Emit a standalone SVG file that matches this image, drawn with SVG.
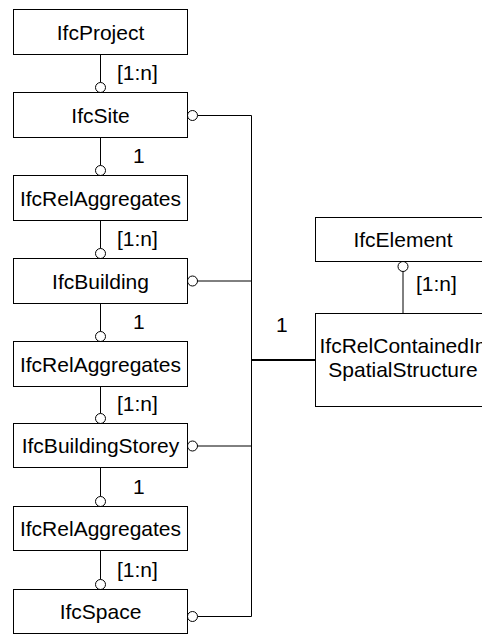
<svg xmlns="http://www.w3.org/2000/svg" width="482" height="635" viewBox="0 0 482 635">
<style>
.box{fill:#fff;stroke:#000;stroke-width:1}
.t{font-family:"Liberation Sans",Arial,sans-serif;font-size:21px;fill:#000;text-anchor:middle}
.l{font-family:"Liberation Sans",Arial,sans-serif;font-size:21px;fill:#000}
.c{fill:#fff;stroke:#000;stroke-width:1}
.ln{stroke:#000;stroke-width:1;fill:none}
</style>
<rect width="482" height="635" fill="#fff"/>
<g id="connectors">
  <path class="ln" d="M100.5 54.5V82.5 M100.5 137.5V165.5 M100.5 220.5V248.5 M100.5 303.5V331.5 M100.5 386.5V413.5 M100.5 467.5V496.5 M100.5 550.5V579.5"/>
  <circle class="c" cx="100.5" cy="87.5" r="5"/>
  <circle class="c" cx="100.5" cy="170.5" r="5"/>
  <circle class="c" cx="100.5" cy="253.5" r="5"/>
  <circle class="c" cx="100.5" cy="336.5" r="5"/>
  <circle class="c" cx="100.5" cy="418.5" r="5"/>
  <circle class="c" cx="100.5" cy="501.5" r="5"/>
  <circle class="c" cx="100.5" cy="584.5" r="5"/>
  <text class="l" x="117" y="80">[1:n]</text>
  <text class="l" x="133" y="163">1</text>
  <text class="l" x="117" y="246">[1:n]</text>
  <text class="l" x="133" y="329">1</text>
  <text class="l" x="117" y="411">[1:n]</text>
  <text class="l" x="133" y="494">1</text>
  <text class="l" x="117" y="577">[1:n]</text>
  <path class="ln" d="M197.5 115.5H251.5V616.5H197.5 M197.5 281H251.5 M197.5 446H251.5"/>
  <circle class="c" cx="192.5" cy="115.5" r="5"/>
  <circle class="c" cx="192.5" cy="281" r="5"/>
  <circle class="c" cx="192.5" cy="446" r="5"/>
  <circle class="c" cx="192.5" cy="616.5" r="5"/>
  <path d="M251.5 360H315.5" stroke="#000" stroke-width="2"/>
  <text class="l" x="276" y="332">1</text>
  <path class="ln" d="M403 271.5V313.5"/>
  <circle class="c" cx="403" cy="266.5" r="5"/>
  <text class="l" x="416" y="291">[1:n]</text>
</g>
<g id="IfcProject"><rect class="box" x="13.5" y="9.5" width="174" height="45"/><text class="t" x="100.5" y="39.5">IfcProject</text></g>
<g id="IfcSite"><rect class="box" x="13.5" y="92.5" width="174" height="45"/><text class="t" x="100.5" y="122.5">IfcSite</text></g>
<g id="IfcRelAggregates1"><rect class="box" x="13.5" y="175.5" width="174" height="45"/><text class="t" x="100.5" y="205.5">IfcRelAggregates</text></g>
<g id="IfcBuilding"><rect class="box" x="13.5" y="258.5" width="174" height="45"/><text class="t" x="100.5" y="288.5">IfcBuilding</text></g>
<g id="IfcRelAggregates2"><rect class="box" x="13.5" y="341.5" width="174" height="45"/><text class="t" x="100.5" y="371.5">IfcRelAggregates</text></g>
<g id="IfcBuildingStorey"><rect class="box" x="13.5" y="423.5" width="174" height="44"/><text class="t" x="100.5" y="453">IfcBuildingStorey</text></g>
<g id="IfcRelAggregates3"><rect class="box" x="13.5" y="506.5" width="174" height="44"/><text class="t" x="100.5" y="536">IfcRelAggregates</text></g>
<g id="IfcSpace"><rect class="box" x="13.5" y="589.5" width="174" height="44"/><text class="t" x="100.5" y="619">IfcSpace</text></g>
<g id="IfcElement"><rect class="box" x="315.5" y="217.5" width="175" height="44"/><text class="t" x="403" y="247">IfcElement</text></g>
<g id="IfcRelContainedInSpatialStructure"><rect class="box" x="315.5" y="313.5" width="175" height="93"/><text class="t" x="403" y="353">IfcRelContainedIn</text><text class="t" x="403" y="377">SpatialStructure</text></g>
</svg>
